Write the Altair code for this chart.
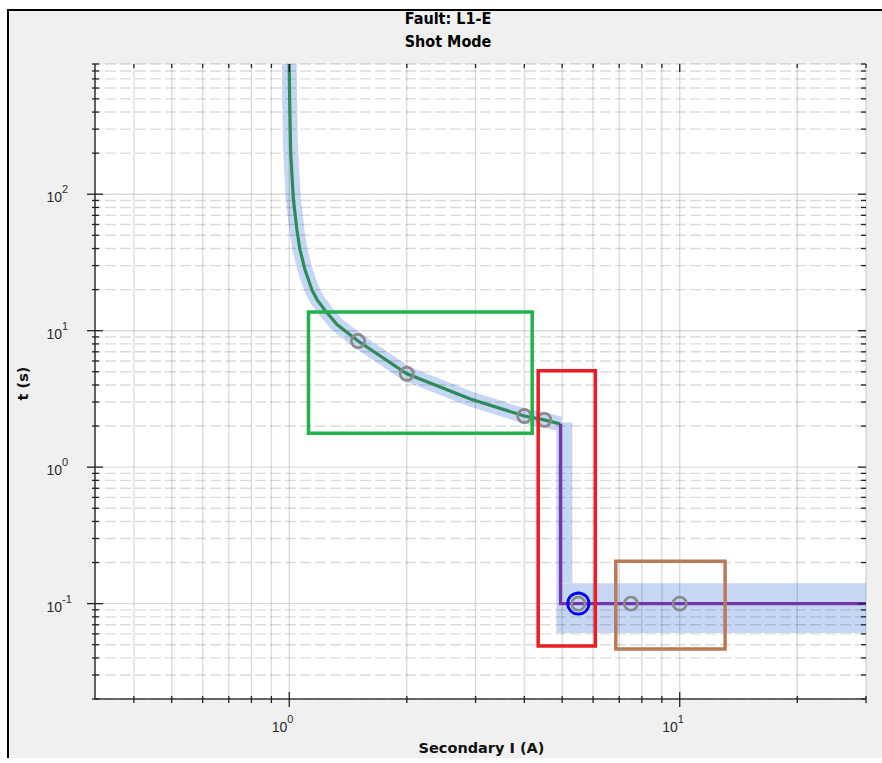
import altair as alt
import pandas as pd

# Inverse-time section of the trip characteristic (secondary current in A, time in s)
curve_i = [1.0, 1.002, 1.008, 1.024, 1.046, 1.065, 1.097, 1.143, 1.178, 1.242, 1.325,
           1.5, 2.0, 2.91, 4.0, 4.5, 4.95]
curve_t = [900, 500, 207, 93, 55, 39.3, 28, 19.9, 16.9, 13.8, 11.1,
           8.4, 4.83, 3.16, 2.37, 2.22, 2.07]

# Definite-time (high-set) section
dt_i = [4.95, 4.95, 30]
dt_t = [2.07, 0.1, 0.1]

# Test shots
shot_i = [1.5, 2.0, 4.0, 4.5, 5.5, 7.5, 10.0]
shot_t = [8.4, 4.83, 2.37, 2.22, 0.1, 0.1, 0.1]
active_i = [5.5]
active_t = [0.1]

# Tolerance zone of the high-set stage
tol_i1 = [4.83, 4.83]
tol_i2 = [5.31, 30]
tol_t1 = [0.141, 0.061]
tol_t2 = [2.12, 0.141]

# Highlighted regions
box_name = ["Inverse", "Pickup", "High-set"]
box_i1 = [1.12, 4.34, 6.86]
box_i2 = [4.19, 6.08, 13.07]
box_t1 = [1.77, 0.049, 0.0464]
box_t2 = [13.7, 5.09, 0.204]

# Axis ticks
x_major = [1, 10]
x_minor = [0.4, 0.5, 0.6, 0.7, 0.8, 0.9, 2, 3, 4, 5, 6, 7, 8, 9, 20, 30]
x_exp = ["0", "1"]
y_major = [0.1, 1, 10, 100]
y_minor = [0.02, 0.03, 0.04, 0.05, 0.06, 0.07, 0.08, 0.09,
           0.2, 0.3, 0.4, 0.5, 0.6, 0.7, 0.8, 0.9,
           2, 3, 4, 5, 6, 7, 8, 9,
           20, 30, 40, 50, 60, 70, 80, 90,
           200, 300, 400, 500, 600, 700, 800, 900]
y_exp = ["-1", "0", "1", "2"]

# Texts
title_lines = ["Fault: L1-E", "Shot Mode"]
x_title = "Secondary I (A)"
y_title = "t (s)"

W, H = 771, 635
LABEL_FONT = "Liberation Sans"
TITLE_FONT = "DejaVu Sans"
HEAD_FONT = "Liberation Sans Narrow, DejaVu Sans Condensed, sans-serif"
BAND = "#c6d7f6"

xs = alt.Scale(type="log", domain=[0.318, 30], nice=False)
ys = alt.Scale(type="log", domain=[0.02, 900], nice=False)

curve_df = pd.DataFrame({"i": curve_i, "t": curve_t, "n": range(len(curve_i))})
dt_df = pd.DataFrame({"i": dt_i, "t": dt_t, "n": range(len(dt_i))})
shot_df = pd.DataFrame({"i": shot_i, "t": shot_t})
active_df = pd.DataFrame({"i": active_i, "t": active_t})
tol_df = pd.DataFrame({"i1": tol_i1, "i2": tol_i2, "t1": tol_t1, "t2": tol_t2})
box_df = pd.DataFrame({"name": box_name, "i1": box_i1, "i2": box_i2, "t1": box_t1, "t2": box_t2})
xmaj_df = pd.DataFrame({"v": x_major, "e": x_exp})
xmin_df = pd.DataFrame({"v": x_minor})
xall_df = pd.DataFrame({"v": x_major + x_minor})
ymaj_df = pd.DataFrame({"v": y_major, "e": y_exp})
ymin_df = pd.DataFrame({"v": y_minor})
one = alt.Data(values=[{"k": 0}])


def X(field):
    return alt.X(field, type="quantitative", scale=xs, axis=None)


def Y(field):
    return alt.Y(field, type="quantitative", scale=ys, axis=None)


# figure panel (grey, with a black rule along its top and left edges) and white plotting area
panel = alt.Chart(one).mark_rect(fill="#f0f0f0").encode(
    x=alt.value(-87), x2=alt.value(W + 200), y=alt.value(-54), y2=alt.value(H + 200))
FRAME = dict(color="#000000", strokeWidth=2)
panel_edges = [
    alt.Chart(one).mark_rule(**FRAME).encode(x=alt.value(-88), x2=alt.value(W + 200), y=alt.value(-54)),
    alt.Chart(one).mark_rule(**FRAME).encode(x=alt.value(-87), y=alt.value(-55), y2=alt.value(H + 200)),
]
plot_bg = alt.Chart(one).mark_rect(fill="white").encode(
    x=alt.value(0), x2=alt.value(W), y=alt.value(0), y2=alt.value(H))

# tolerance band
band_line = alt.Chart(curve_df).mark_line(color=BAND, strokeWidth=15, clip=True).encode(
    x=X("i"), y=Y("t"), order="n:Q")
band_rect = alt.Chart(tol_df).mark_rect(color=BAND, clip=True).encode(
    x=X("i1"), x2="i2", y=Y("t1"), y2="t2")

# grid
GRID = dict(color="#000000", opacity=0.14, strokeWidth=1.4)
x_grid = alt.Chart(xall_df).mark_rule(**GRID).encode(x=X("v"))
y_grid_major = alt.Chart(ymaj_df).mark_rule(**GRID).encode(y=Y("v"))
y_grid_minor = alt.Chart(ymin_df).mark_rule(strokeDash=[11, 4], **GRID).encode(y=Y("v"))

# characteristic
green = alt.Chart(curve_df).mark_line(color="#2e8b57", strokeWidth=3.2, clip=True).encode(
    x=X("i"), y=Y("t"), order="n:Q")
purple = alt.Chart(dt_df).mark_line(color="#7434ac", strokeWidth=3.2, clip=True).encode(
    x=X("i"), y=Y("t"), order="n:Q")

shots = alt.Chart(shot_df).mark_point(shape="circle", filled=False, color="#8a8a8a",
                                      size=175, strokeWidth=2.7, opacity=1).encode(
    x=X("i"), y=Y("t"))
active = alt.Chart(active_df).mark_point(shape="circle", filled=False, color="#0000ee",
                                         size=450, strokeWidth=2.8, opacity=1).encode(
    x=X("i"), y=Y("t"))

boxes = alt.Chart(box_df).mark_rect(filled=False, strokeWidth=3.5).encode(
    x=X("i1"), x2="i2", y=Y("t1"), y2="t2",
    stroke=alt.Stroke("name:N", legend=None,
                      scale=alt.Scale(domain=box_name,
                                      range=["#22b14c", "#ed1c24", "#b97a57"])))

# axis lines and tick marks on all four sides
AXIS = dict(color="#3a3a3a", strokeWidth=1.6)
axis_lines = [
    alt.Chart(one).mark_rule(**AXIS).encode(x=alt.value(0), x2=alt.value(W), y=alt.value(H)),
    alt.Chart(one).mark_rule(**AXIS).encode(x=alt.value(0), y=alt.value(0), y2=alt.value(H)),
]
TICK = dict(color="#222222", strokeWidth=1.3)
ticks = [
    alt.Chart(xmin_df).mark_rule(**TICK).encode(x=X("v"), y=alt.value(H - 3), y2=alt.value(H + 4)),
    alt.Chart(xmaj_df).mark_rule(**TICK).encode(x=X("v"), y=alt.value(H - 7), y2=alt.value(H + 8)),
    alt.Chart(xmin_df).mark_rule(**TICK).encode(x=X("v"), y=alt.value(0), y2=alt.value(4)),
    alt.Chart(xmaj_df).mark_rule(**TICK).encode(x=X("v"), y=alt.value(0), y2=alt.value(8)),
    alt.Chart(ymin_df).mark_rule(**TICK).encode(y=Y("v"), x=alt.value(-3), x2=alt.value(4)),
    alt.Chart(ymaj_df).mark_rule(**TICK).encode(y=Y("v"), x=alt.value(-8), x2=alt.value(8)),
    alt.Chart(ymin_df).mark_rule(**TICK).encode(y=Y("v"), x=alt.value(W - 5), x2=alt.value(W)),
    alt.Chart(ymaj_df).mark_rule(**TICK).encode(y=Y("v"), x=alt.value(W - 8), x2=alt.value(W)),
]

# decade labels written as 10 with a raised exponent
LBL = dict(font=LABEL_FONT, color="#2a2a2a")
labels = [
    alt.Chart(xmaj_df).mark_text(align="right", baseline="alphabetic", fontSize=14, dx=-2, **LBL).encode(
        x=X("v"), y=alt.value(H + 33), text=alt.value("10")),
    alt.Chart(xmaj_df).mark_text(align="left", baseline="alphabetic", fontSize=11, dx=-2, **LBL).encode(
        x=X("v"), y=alt.value(H + 24), text="e:N"),
    alt.Chart(ymaj_df).mark_text(align="right", baseline="alphabetic", fontSize=14, dy=8, **LBL).encode(
        y=Y("v"), x=alt.value(-33), text=alt.value("10")),
    alt.Chart(ymaj_df).mark_text(align="left", baseline="alphabetic", fontSize=11, dy=-1, **LBL).encode(
        y=Y("v"), x=alt.value(-33), text="e:N"),
]

# chart heading and axis titles
texts = [
    alt.Chart(one).mark_text(font=HEAD_FONT, fontSize=16, fontWeight="bold", color="#000000",
                             baseline="middle", align="center").encode(
        x=alt.value(353), y=alt.value(-45), text=alt.value(title_lines[0])),
    alt.Chart(one).mark_text(font=HEAD_FONT, fontSize=16, fontWeight="bold", color="#000000",
                             baseline="middle", align="center").encode(
        x=alt.value(353), y=alt.value(-22), text=alt.value(title_lines[1])),
    alt.Chart(one).mark_text(font=TITLE_FONT, fontSize=14.5, fontWeight="bold", color="#111111",
                             baseline="middle", align="center").encode(
        x=alt.value(W / 2 + 1), y=alt.value(H + 50), text=alt.value(x_title)),
    alt.Chart(one).mark_text(font=TITLE_FONT, fontSize=14.5, fontWeight="bold", color="#111111",
                             baseline="middle", align="center", angle=270).encode(
        x=alt.value(-71), y=alt.value(H / 2 + 2), text=alt.value(y_title)),
]

# canvas is kept a few pixels shorter than the window so the page never scrolls
chart = alt.layer(
    panel, *panel_edges, plot_bg, band_line, band_rect, x_grid, y_grid_major, y_grid_minor,
    green, purple, shots, active, *axis_lines, *ticks, *labels, *texts, boxes,
).properties(
    width=W, height=H,
    padding={"left": 95, "top": 64, "right": 16, "bottom": 59},
    autosize=alt.AutoSizeParams(type="none"),
    background="white",
).configure_view(strokeOpacity=0)

chart.save("out.html", embed_options={"renderer": "svg", "actions": False})
